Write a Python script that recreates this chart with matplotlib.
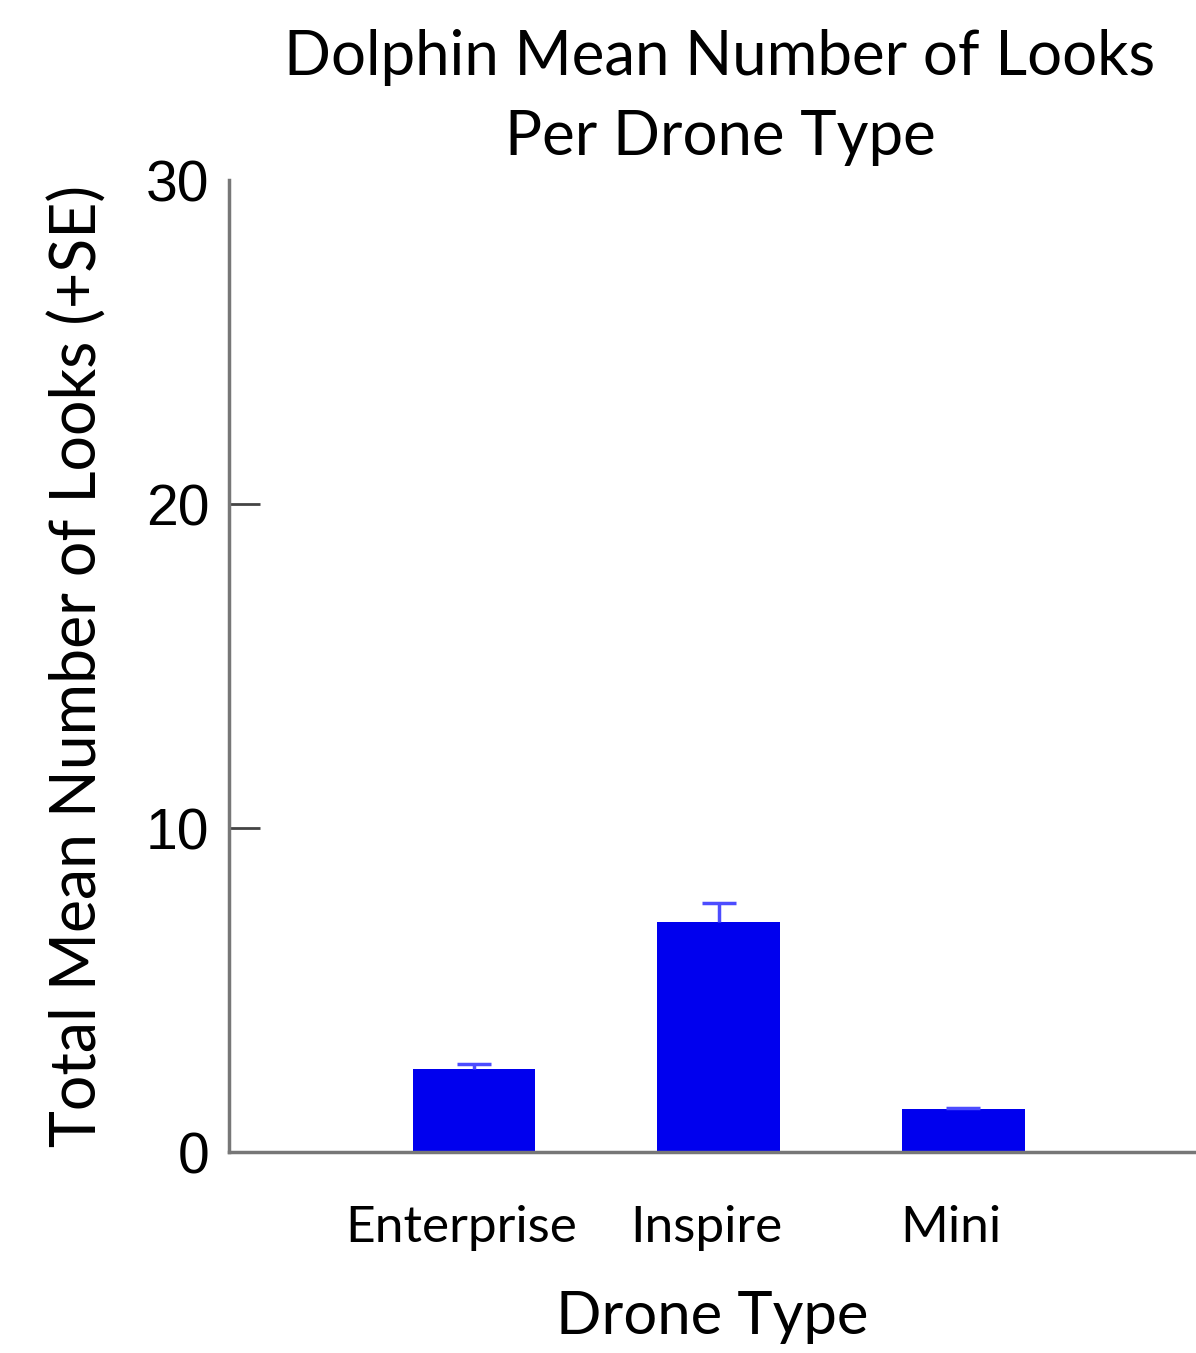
import numpy as np
import matplotlib.pyplot as plt

# data
drones = ['Enterprise', 'Inspire', 'Mini']
mean_looks = [2.55, 7.1, 1.33]
se_looks = [0.17, 0.6, 0.04]

plt.rcParams['font.family'] = ['Lato', 'DejaVu Sans']

fig = plt.figure(figsize=(11.96, 13.53), dpi=100)
ax = fig.add_axes([229 / 1196, 1 - 1152 / 1353, 1 - 229 / 1196, (1152 - 180) / 1353])

x = np.arange(1, len(drones) + 1)
ax.bar(x, mean_looks, width=0.5, color='#0000ee', zorder=2)
eb = ax.errorbar(x, mean_looks, yerr=[np.zeros(len(se_looks)), se_looks], fmt='none',
                 ecolor='#4c4cff', elinewidth=2.5, capsize=12, capthick=2.5, zorder=3)
eb[1][0].set_visible(False)  # no cap at bar top

ax.set_xlim(0, 3.95)
ax.set_ylim(0, 30)

ax.spines['top'].set_visible(False)
ax.spines['right'].set_visible(False)
for s in ['left', 'bottom']:
    ax.spines[s].set_color('#777777')
    ax.spines[s].set_linewidth(2.5)

ax.set_yticks([0, 10, 20, 30])
ax.tick_params(axis='y', direction='in', length=22, width=2, color='#444444', pad=14, labelsize=41)
for lab in ax.get_yticklabels():
    lab.set_fontfamily('Liberation Sans')
ax.yaxis.get_major_ticks()[-1].tick1line.set_visible(False)

ax.set_xticks(x - 0.05)
ax.set_xticklabels(drones, fontsize=37)
ax.tick_params(axis='x', length=0, pad=38)

ax.set_xlabel('Drone Type', fontsize=43, labelpad=28)
ax.set_ylabel('Total Mean Number of Looks (+SE)', fontsize=45, labelpad=28)

fig.text(720 / 1196, 1 - 97 / 1353, 'Dolphin Mean Number of Looks\nPer Drone Type',
         ha='center', va='center', fontsize=44.5, linespacing=1.5)

fig.savefig('out.png', dpi=100)
